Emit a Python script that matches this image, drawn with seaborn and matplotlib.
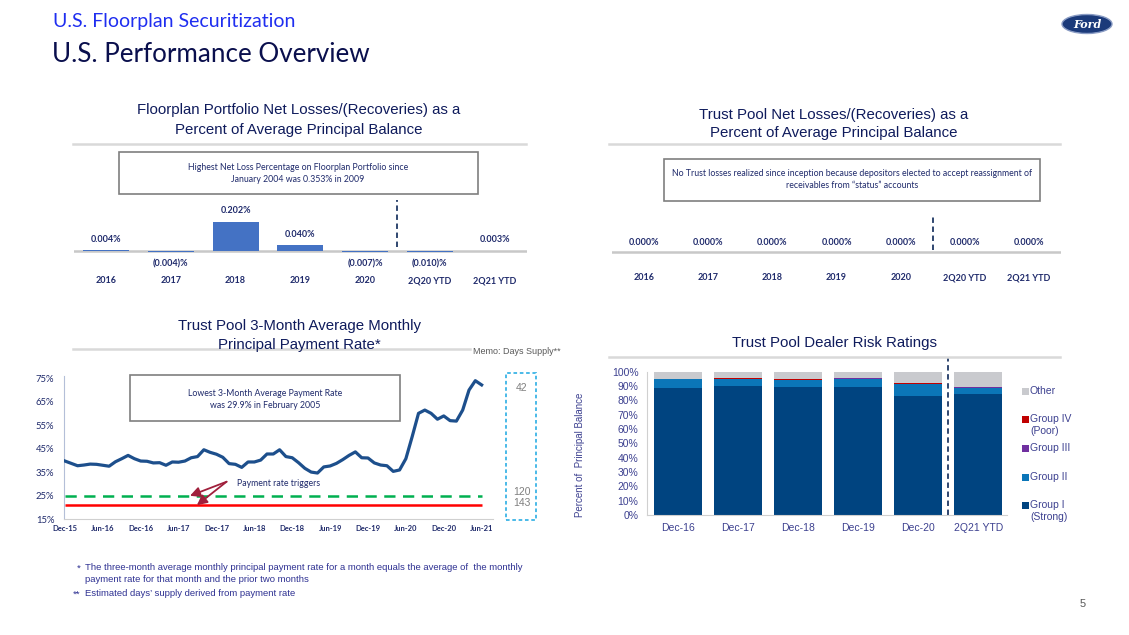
import matplotlib

matplotlib.use("Agg")
import matplotlib.pyplot as plt
import numpy as np
import seaborn as sns
from matplotlib.lines import Line2D
from matplotlib.patches import Ellipse, Rectangle

W, H = 1129, 635

# --- data -------------------------------------------------------------
loss_years = ["2016", "2017", "2018", "2019", "2020", "2Q20 YTD", "2Q21 YTD"]
floorplan_loss = [0.004, -0.004, 0.202, 0.040, -0.007, -0.010, 0.003]
trust_loss = [0.000, 0.000, 0.000, 0.000, 0.000, 0.000, 0.000]

rate_ticks = ["Dec-15", "Jun-16", "Dec-16", "Jun-17", "Dec-17", "Jun-18",
              "Dec-18", "Jun-19", "Dec-19", "Jun-20", "Dec-20", "Jun-21"]
payment_rate = [
    39.8, 38.8, 37.8, 38.1, 38.5, 38.4, 38.0, 37.6, 39.5, 40.8, 42.2, 40.8,
    39.8, 39.7, 39.0, 39.1, 38.0, 39.4, 39.3, 39.8, 41.2, 41.7, 44.6, 43.5,
    42.7, 41.4, 38.7, 38.4, 37.1, 39.4, 39.4, 40.2, 42.8, 42.8, 44.6, 41.7,
    41.2, 39.1, 36.7, 35.1, 34.7, 37.3, 37.7, 38.8, 40.4, 42.2, 43.7, 41.2,
    41.1, 39.0, 38.1, 37.8, 35.4, 36.0, 40.8, 50.2, 60.1, 61.5, 60.1, 57.6,
    59.0, 57.0, 56.8, 61.5, 70.0, 74.0, 72.2,
]
trigger_high = 25.0
trigger_low = 21.0
days_supply = ["42", "120", "143"]

risk_dates = ["Dec-16", "Dec-17", "Dec-18", "Dec-19", "Dec-20", "2Q21 YTD"]
group_1 = [88.5, 90.0, 89.2, 89.2, 83.3, 84.2]
group_2 = [6.2, 5.0, 5.2, 6.0, 7.8, 4.6]
group_3 = [0.1, 0.1, 0.1, 0.2, 0.4, 0.2]
group_4 = [0.3, 0.2, 0.2, 0.5, 0.3, 0.2]
other = [4.9, 4.7, 5.3, 4.1, 8.2, 10.8]
risk_labels = ["Group I\n(Strong)", "Group II", "Group III", "Group IV\n(Poor)", "Other"]

# --- style ------------------------------------------------------------
ARIAL = "Liberation Sans"
CAL = "Lato"
NAVY = "#0f1b5c"
TEXT_NAVY = "#1f2a6b"
RULE = "#d9d9d9"
RISK_COLORS = ["#004480", "#0b76b8", "#7030a0", "#c00000", "#c9cace"]
BOX_FONT = 6.3


def px_axes(fig, left, top, right, bottom):
    return fig.add_axes([left / W, 1 - bottom / H, (right - left) / W, (bottom - top) / H])


def ftext(fig, x, y, s, **kw):
    kw.setdefault("va", "center")
    fig.text(x / W, 1 - y / H, s, **kw)


def fbox(fig, left, top, right, bottom, **kw):
    fig.add_artist(Rectangle((left / W, 1 - bottom / H), (right - left) / W,
                             (bottom - top) / H, transform=fig.transFigure,
                             fill=False, **kw))


def fline(fig, x0, y0, x1, y1, **kw):
    fig.add_artist(Line2D([x0 / W, x1 / W], [1 - y0 / H, 1 - y1 / H],
                          transform=fig.transFigure, **kw))


def clean(ax):
    for s in ax.spines.values():
        s.set_visible(False)
    ax.set_xlabel("")
    ax.set_ylabel("")
    ax.patch.set_alpha(0)


def chart_title(fig, x, y, lines, step, rule_y, rule_x0, rule_x1):
    for i, line in enumerate(lines):
        ftext(fig, x, y + i * step, line, ha="center", fontsize=10.8,
              family=ARIAL, color=NAVY)
    fline(fig, rule_x0, rule_y, rule_x1, rule_y, color=RULE, lw=1.8)


def loss_chart(fig, values, left, right, baseline, pos_off, neg_off, pad):
    scale = 143.6
    ylo, yhi = -0.08, 0.40
    ax = px_axes(fig, left, baseline - yhi * scale, right, baseline - ylo * scale)
    sns.barplot(x=loss_years, y=values, color="#4472c4", width=0.71,
                saturation=1, linewidth=0, ax=ax, zorder=3)
    ax.set_xlim(-0.5, 6.5)
    ax.set_ylim(ylo, yhi)
    ax.axhline(0, color="#c8c8c8", lw=1.8, zorder=2)
    clean(ax)
    ax.set_yticks([])
    ax.tick_params(axis="x", length=0, pad=pad)
    ax.set_xticks(range(len(loss_years)))
    ax.set_xticklabels(loss_years, family=CAL, fontsize=6.5, fontweight="bold",
                       color=TEXT_NAVY)
    for i, v in enumerate(values):
        if v >= 0:
            ax.annotate(f"{v:.3f}%", (i, v), xytext=(0, pos_off),
                        textcoords="offset points", ha="center", va="center",
                        family=CAL, fontsize=6.5, fontweight="bold", color=TEXT_NAVY)
        else:
            ax.annotate(f"({abs(v):.3f})%", (i, 0), xytext=(0, neg_off),
                        textcoords="offset points", ha="center", va="center",
                        family=CAL, fontsize=6.5, fontweight="bold", color=TEXT_NAVY)
    return ax, scale


fig = plt.figure(figsize=(W / 100, H / 100), dpi=100)
fig.patch.set_facecolor("white")

# --- header -----------------------------------------------------------
ftext(fig, 53, 22, "U.S. Floorplan Securitization", family=CAL, fontsize=14,
      color="#1f2ef0")
ftext(fig, 52, 55, "U.S. Performance Overview", family=CAL, fontsize=18.7,
      color="#0a0f4d")
fig.add_artist(Ellipse((1087 / W, 1 - 24 / H), 50 / W, 19 / H,
                       transform=fig.transFigure, facecolor="#1b3a7a",
                       edgecolor="#8a9cc4", lw=1))
ftext(fig, 1087, 24.5, "Ford", ha="center", family="DejaVu Serif", fontsize=8,
      fontstyle="italic", fontweight="bold", color="white")

# --- top left: floorplan losses --------------------------------------
chart_title(fig, 299, 110, ["Floorplan Portfolio Net Losses/(Recoveries) as a",
                            "Percent of Average Principal Balance"], 20, 144, 73, 526)
fbox(fig, 119, 152, 478, 194, edgecolor="#7f7f7f", lw=1.2)
ftext(fig, 298, 167, "Highest Net Loss Percentage on Floorplan Portfolio since",
      ha="center", family=CAL, fontsize=BOX_FONT, color=TEXT_NAVY)
ftext(fig, 298, 179, "January 2004 was 0.353% in 2009", ha="center", family=CAL,
      fontsize=BOX_FONT, color=TEXT_NAVY)
ax, sc = loss_chart(fig, floorplan_loss, 73.6, 527, 251, 8, -9, 10)
ax.plot([4.5, 4.5], [(251 - 247) / sc, (251 - 200) / sc], color="#1f3864",
        lw=1.3, ls=(0, (3, 2)))

# --- top right: trust pool losses ------------------------------------
chart_title(fig, 834, 115, ["Trust Pool Net Losses/(Recoveries) as a",
                            "Percent of Average Principal Balance"], 18, 144, 609, 1060)
fbox(fig, 664, 159, 1040, 201, edgecolor="#7f7f7f", lw=1.2)
ftext(fig, 852, 173, "No Trust losses realized since inception because depositors "
      "elected to accept reassignment of", ha="center", family=CAL,
      fontsize=BOX_FONT, color=TEXT_NAVY)
ftext(fig, 852, 186, "receivables from \u201cstatus\u201d accounts", ha="center",
      family=CAL, fontsize=BOX_FONT, color=TEXT_NAVY)
ax, sc = loss_chart(fig, trust_loss, 612, 1061, 252, 6.5, -9, 7)
ax.plot([4.5, 4.5], [(252 - 250) / sc, (252 - 215) / sc], color="#1f3864",
        lw=1.3, ls=(0, (3, 2)))

# --- bottom left: payment rate ---------------------------------------
chart_title(fig, 299, 326, ["Trust Pool 3-Month Average Monthly",
                            "Principal Payment Rate*"], 19, 349, 73, 470)
ftext(fig, 473, 352, "Memo: Days Supply**", family=ARIAL, fontsize=6.5,
      color="#595959")
ax = px_axes(fig, 64, 376, 493, 519.3)
months = np.arange(len(payment_rate))
sns.lineplot(x=months, y=payment_rate, color="#1d4f8c", lw=2.3, ax=ax, zorder=4)
ax.hlines(trigger_high, 0, len(payment_rate) - 1, colors="#00b050", lw=1.8,
          linestyles=(0, (4.5, 3)), zorder=3)
ax.hlines(trigger_low, 0, len(payment_rate) - 1, colors="#ff0000", lw=1.8, zorder=3)
ax.set_xlim(-0.15, 67.8)
ax.set_ylim(15, 76)
clean(ax)
ax.spines["left"].set_visible(True)
ax.spines["left"].set_color("#b4bfd8")
ax.spines["bottom"].set_visible(True)
ax.spines["bottom"].set_color("#d0d0d0")
ax.set_yticks(range(15, 76, 10))
ax.set_yticklabels([f"{v}%" for v in range(15, 76, 10)], family=CAL, fontsize=6.8,
                   color=TEXT_NAVY)
ax.set_xticks(range(0, len(payment_rate), 6))
ax.set_xticklabels(rate_ticks, family=CAL, fontsize=5.5, fontweight="bold",
                   color=TEXT_NAVY)
ax.tick_params(length=0)
ax.tick_params(axis="y", pad=7)
ax.tick_params(axis="x", pad=4)
for end_y in (trigger_high, trigger_low):
    end_x = 19.8 if end_y == trigger_high else 20.9
    ax.annotate("", xy=(end_x, end_y), xytext=(25.6, 31),
                arrowprops=dict(arrowstyle="-|>,head_length=0.6,head_width=0.3",
                                color="#a0203c", lw=1.3, shrinkA=0, shrinkB=0))
ftext(fig, 237, 483, "Payment rate triggers", family=CAL, fontsize=BOX_FONT,
      color=TEXT_NAVY)
fbox(fig, 130, 375, 400, 421, edgecolor="#7f7f7f", lw=1.2)
ftext(fig, 265, 393, "Lowest 3-Month Average Payment Rate", ha="center",
      family=CAL, fontsize=BOX_FONT, color=TEXT_NAVY)
ftext(fig, 265, 405, "was 29.9% in February 2005", ha="center", family=CAL,
      fontsize=BOX_FONT, color=TEXT_NAVY)
fbox(fig, 506, 373, 536, 519.5, edgecolor="#3cb4e6", lw=1.3, ls=(0, (2, 1.5)))
for label, y in zip(days_supply, [388, 492, 503]):
    ftext(fig, 521.5, y, label, ha="center", family=ARIAL, fontsize=7.5,
          color="#7f7f7f")

# --- bottom right: dealer risk ratings -------------------------------
chart_title(fig, 834, 343, ["Trust Pool Dealer Risk Ratings"], 19, 357, 609, 1060)
ax = px_axes(fig, 646.7, 371.7, 1006.7, 515)
layers = np.cumsum([group_1, group_2, group_3, group_4, other], axis=0)
for top, color in reversed(list(zip(layers, RISK_COLORS))):
    sns.barplot(x=risk_dates, y=top, color=color, width=0.805, saturation=1,
                linewidth=0, ax=ax)
ax.set_xlim(-0.525, 5.475)
ax.set_ylim(0, 100)
clean(ax)
ax.spines["left"].set_visible(True)
ax.spines["left"].set_color("#d0d0d0")
ax.spines["bottom"].set_visible(True)
ax.spines["bottom"].set_color("#d0d0d0")
ax.set_yticks(range(0, 101, 10))
ax.set_yticklabels([f"{v}%" for v in range(0, 101, 10)], family=ARIAL,
                   fontsize=7.5, color="#3d4190")
ax.set_xticks(range(len(risk_dates)))
ax.set_xticklabels(risk_dates, family=ARIAL, fontsize=7.5, color="#3d4190")
ax.tick_params(length=0)
ax.tick_params(axis="y", pad=6)
ax.tick_params(axis="x", pad=6)
ax.axvline(4.5, ymin=0, ymax=1.093, color="#1f3864", lw=1.3, ls=(0, (3, 2)),
           clip_on=False)
ftext(fig, 580, 455, "Percent of  Principal Balance", rotation=90, ha="center",
      family=ARIAL, fontsize=7, color="#3d4190")
legend_y = [511, 477, 448, 425, 391]
for label, color, y in zip(risk_labels, RISK_COLORS, legend_y):
    first_y = y - 6 if "\n" in label else y
    fig.add_artist(Rectangle((1022 / W, 1 - (first_y + 3.5) / H), 7 / W, 7 / H,
                             transform=fig.transFigure, facecolor=color, lw=0))
    ftext(fig, 1030, y, label, family=ARIAL, fontsize=7.5, color="#3d4190",
          linespacing=1.2)

# --- footnotes --------------------------------------------------------
foot = dict(family=ARIAL, fontsize=6.8, color="#2e3192")
ftext(fig, 77, 568, "*", **foot)
ftext(fig, 85, 568, "The three-month average monthly principal payment rate for a "
      "month equals the average of  the monthly", **foot)
ftext(fig, 85, 580, "payment rate for that month and the prior two months", **foot)
ftext(fig, 73, 594, "**", **foot)
ftext(fig, 85, 594, "Estimated days\u2019 supply derived from payment rate", **foot)
ftext(fig, 1083, 604, "5", ha="center", family=ARIAL, fontsize=8, color="#595959")

fig.savefig("out.png", dpi=100)
